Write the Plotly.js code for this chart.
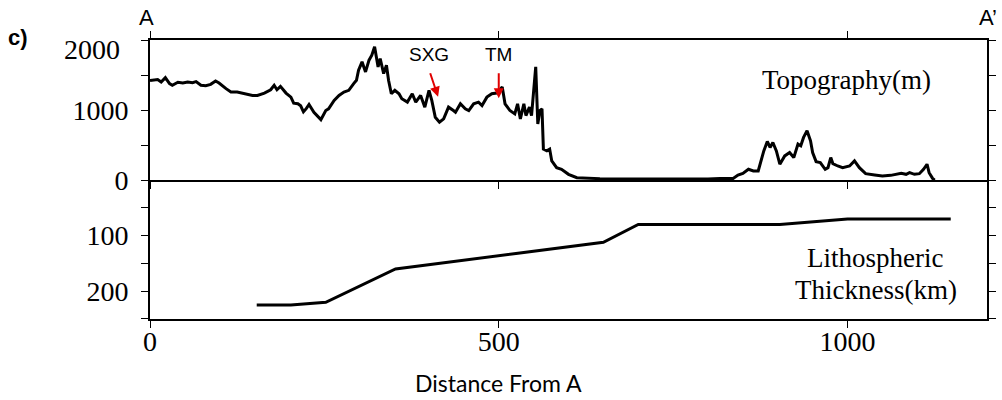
<!DOCTYPE html>
<html>
<head>
<meta charset="utf-8">
<script src="https://cdn.plot.ly/plotly-3.0.1.min.js"></script>
<style>html,body{margin:0;padding:0;background:#fff;}#chart{width:1002px;height:400px;}</style>
</head>
<body>
<div id="chart"></div>
<script>
// Topography profile along A-A' (distance km, elevation m)
const topoDist = [0,4,11,16,22,28,32,40,47,54,61,66,73,80,87,94,99,109,116,125,137,147,154,164,173,178,182,187,195,202,206,212,216,220,224,228,235,245,252,256,264,271,278,285,292,296,299,304,309,314,318,322,327,330,335,339,342,346,351,357,361,369,376,381,388,394,400,404,409,415,421,428,435,438,445,452,457,464,471,476,483,490,497,505,509,516,523,527,531,536,539,544,547,550,553,556,559,562,564,569,573,576,583,590,600,612,631,645,680,720,760,800,817,836,843,850,858,865,872,876,880,885,889,893,898,903,910,917,923,929,933,937,942,947,950,955,961,968,972,976,979,986,993,1003,1010,1017,1026,1039,1050,1062,1072,1077,1084,1089,1096,1103,1109,1114,1117,1122,1125];
const topoElev = [1420,1425,1435,1400,1463,1377,1353,1396,1386,1400,1391,1405,1353,1348,1367,1415,1386,1305,1257,1257,1233,1209,1209,1242,1290,1353,1290,1338,1242,1184,1098,1090,1060,975,1020,1079,968,863,993,1017,1137,1209,1257,1281,1377,1425,1569,1688,1544,1712,1784,1904,1616,1736,1521,1640,1425,1233,1281,1233,1161,1113,1233,1113,1209,1041,1281,1137,897,825,873,1041,993,968,1089,1017,993,1089,1113,1065,1184,1233,1242,1328,1089,993,945,1089,873,1089,921,1041,921,1233,1616,801,993,1017,442,417,442,273,177,154,82,33,24,20,15,12,12,15,24,24,72,96,154,130,130,273,417,551,465,537,417,226,345,393,321,513,489,609,705,561,393,263,249,154,177,321,235,201,177,201,273,177,91,72,58,67,82,96,82,105,82,91,154,226,105,24,0];
// Lithospheric thickness (km)
const lithoDist = [153,202,252,352,650,700,903,1000,1148];
const lithoThick = [225,225,220,160,112,80,80,70,70];
// Tick labels
const xTicks = [0,500,1000];
const xTickText = ['0','500','1000'];
const topoTicks = [0,500,1000,1500,2000];
const topoTickText = ['0','','1000','',''];
const lithoTicks = [0,50,100,150,200,250];
const lithoTickText = ['','','100','','200',''];

const serif = 'Liberation Serif, Times New Roman, serif';
const sans = 'Liberation Sans, Arial, sans-serif';

const traces = [
  {x: topoDist, y: topoElev, xaxis: 'x2', yaxis: 'y2', type: 'scatter', mode: 'lines',
   line: {color: '#000', width: 3}, hoverinfo: 'skip'},
  {x: lithoDist, y: lithoThick, xaxis: 'x', yaxis: 'y', type: 'scatter', mode: 'lines',
   line: {color: '#000', width: 3}, hoverinfo: 'skip'}
];

const axBase = {showgrid: false, zeroline: false, showline: true, linecolor: '#000', linewidth: 2,
  mirror: 'ticks', ticks: 'outside', ticklen: 7, tickwidth: 1, tickcolor: '#000',
  tickfont: {family: serif, size: 28, color: '#000'}, tickmode: 'array'};

const layout = {
  width: 1002, height: 400,
  margin: {l: 150, r: 15, t: 40, b: 81},
  paper_bgcolor: '#fff', plot_bgcolor: '#fff',
  showlegend: false,
  xaxis: Object.assign({}, axBase, {range: [0, 1200], domain: [0, 1], anchor: 'y', mirror: false,
    tickvals: xTicks, ticktext: xTickText, ticklabelstandoff: -11}),
  yaxis: Object.assign({}, axBase, {range: [250, 0], domain: [0, 0.498], anchor: 'x',
    tickvals: lithoTicks, ticktext: lithoTickText, ticklabelstandoff: 7}),
  xaxis2: Object.assign({}, axBase, {range: [0, 1200], domain: [0, 1], anchor: 'y2', matches: 'x',
    tickvals: xTicks, ticktext: ['', '', ''], showticklabels: false}),
  yaxis2: Object.assign({}, axBase, {range: [0, 2000], domain: [0.498, 1], anchor: 'x2',
    tickvals: topoTicks, ticktext: topoTickText, ticklabelstandoff: 7}),
  annotations: [
    {text: '2000', xref: 'paper', x: -0.0335, xanchor: 'right', yref: 'y2', y: 2000, yanchor: 'middle', yshift: -9,
     showarrow: false, font: {family: serif, size: 28, color: '#000'}},
    {text: 'Topography(m)', xref: 'x2', x: 999, yref: 'y2', y: 1429, xanchor: 'center', yanchor: 'middle',
     showarrow: false, font: {family: serif, size: 27, color: '#000'}},
    {text: 'Lithospheric', xref: 'x', x: 1040, yref: 'y', y: 141, xanchor: 'center', yanchor: 'middle',
     showarrow: false, font: {family: serif, size: 27, color: '#000'}},
    {text: 'Thickness(km)', xref: 'x', x: 1041, yref: 'y', y: 197.5, xanchor: 'center', yanchor: 'middle',
     showarrow: false, font: {family: serif, size: 27, color: '#000'}},
    {text: 'SXG', xref: 'x2', x: 400, yref: 'y2', y: 1547, yshift: 17, xanchor: 'center', yanchor: 'middle',
     showarrow: false, font: {family: sans, size: 19, color: '#000'}},
    {text: 'TM', xref: 'x2', x: 500, yref: 'y2', y: 1547, yshift: 17, xanchor: 'center', yanchor: 'middle',
     showarrow: false, font: {family: sans, size: 19, color: '#000'}},
    {text: '', xref: 'x2', x: 413, yref: 'y2', y: 1190, axref: 'x2', ax: 401, ayref: 'y2', ay: 1547,
     showarrow: true, arrowhead: 2, arrowsize: 1, arrowwidth: 2, arrowcolor: '#e00000', standoff: 0},
    {text: '', xref: 'x2', x: 500, yref: 'y2', y: 1167, axref: 'x2', ax: 500, ayref: 'y2', ay: 1547,
     showarrow: true, arrowhead: 2, arrowsize: 1, arrowwidth: 2, arrowcolor: '#e00000', standoff: 0},
    {text: 'A', xref: 'x', x: 0, xshift: -4, yref: 'paper', y: 1, yshift: 23, xanchor: 'center', yanchor: 'middle',
     showarrow: false, font: {family: sans, size: 22, color: '#000'}},
    {text: 'A\u2019', xref: 'paper', x: 1, xshift: 1, yref: 'paper', y: 1, yshift: 23, xanchor: 'center', yanchor: 'middle',
     showarrow: false, font: {family: sans, size: 22, color: '#000'}},
    {text: '<b>c)</b>', xref: 'paper', x: -0.1577, yref: 'paper', y: 1, yshift: 3, xanchor: 'center', yanchor: 'middle',
     showarrow: false, font: {family: sans, size: 22, color: '#000'}},
    {text: 'Distance From A', xref: 'x', x: 500, yref: 'paper', y: 0, yshift: -64, xanchor: 'center', yanchor: 'middle',
     showarrow: false, font: {family: 'Lato, sans-serif', size: 23, color: '#000'}}
  ]
};

Plotly.newPlot('chart', traces, layout, {staticPlot: true, displayModeBar: false});
</script>
</body>
</html>
